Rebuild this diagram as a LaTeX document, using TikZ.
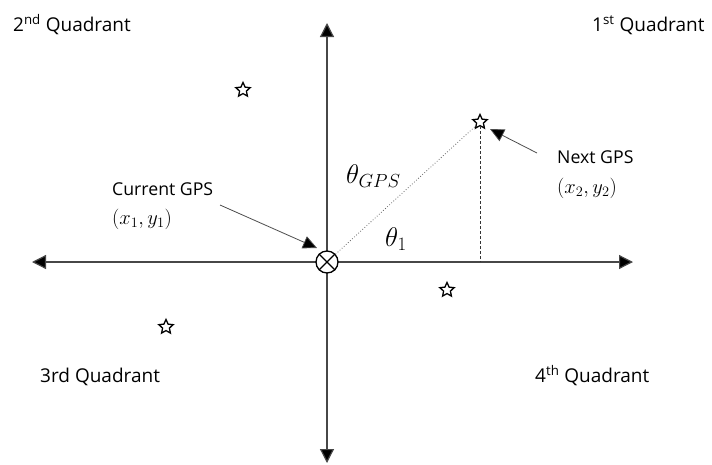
\RequirePackage{fix-cm}
\documentclass[tikz,border=0pt]{standalone}
\usepackage{fontspec}
\setmainfont{Open Sans}
\usetikzlibrary{arrows.meta,shapes.geometric}
\begin{document}
\begin{tikzpicture}[x=1pt,y=-1pt,
  axis/.style={draw=black!72, line width=1.2pt,
    {Triangle[length=14pt,width=14pt,fill=black]}-{Triangle[length=14pt,width=14pt,fill=black]}},
  ptr/.style={draw=black!70, line width=0.8pt, -{Triangle[length=14pt,width=13pt,fill=black]}},
  starmark/.style={star, star points=5, star point ratio=2.1, draw=black, line width=1.3pt,
    minimum size=15pt, inner sep=0pt},
  qlabel/.style={anchor=base west, inner sep=0pt, font=\fontsize{19}{22}\selectfont},
  glabel/.style={anchor=base west, inner sep=0pt, font=\fontsize{17.7}{21}\selectfont},
  mlabel/.style={anchor=base west, inner sep=0pt, font=\fontsize{20.5}{24}\selectfont},
  tlabel/.style={anchor=base west, inner sep=0pt, font=\fontsize{27}{30}\selectfont}]
\useasboundingbox (0,0) rectangle (712,464);

% axes
\coordinate (L) at (32,262);
\coordinate (R) at (633,262);
\coordinate (T) at (327,23);
\coordinate (B) at (327,463);
\draw[axis] (L) -- (R);
\draw[axis] (T) -- (B);

% origin marker
\node[circle, draw=black, line width=1.3pt, fill=white, minimum size=22pt, inner sep=0pt] (c) at (327,262) {};
\draw[line width=1.3pt] (c.north east) -- (c.south west);
\draw[line width=1.3pt] (c.north west) -- (c.south east);

% stars
\node[starmark] (s1) at (480,122) {};
\node[starmark] (s2) at (243,90) {};
\node[starmark] (s3) at (166,327) {};
\node[starmark] (s4) at (447,290) {};

% dotted and dashed lines
\draw[black!60, line width=0.8pt, dotted] (c) -- (s1);
\coordinate (foot) at (s1.south |- c);
\draw[black!80, line width=0.8pt, densely dashed] (s1.south) -- (foot);

% quadrant labels
\node[qlabel] (q2) at (13,31) {2\textsuperscript{nd} Quadrant};
\node[qlabel] (q1) at (592,31) {1\textsuperscript{st} Quadrant};
\node[qlabel] (q3) at (40,382) {3rd Quadrant};
\node[qlabel] (q4) at (535,382) {4\textsuperscript{th} Quadrant};

% GPS labels
\node[glabel] (cur) at (112,195) {Current GPS};
\node[mlabel] (curxy) at (112,224) {$(x_1,y_1)$};
\node[glabel] (nxt) at (557,163) {Next GPS};
\node[mlabel] (nxtxy) at (557,193) {$(x_2,y_2)$};

% pointer arrows
\coordinate (a1s) at (220,205);
\coordinate (a1e) at (317,248);
\draw[ptr] (a1s) -- (a1e);
\coordinate (a2s) at (537,153);
\coordinate (a2e) at (490,129);
\draw[ptr] (a2s) -- (a2e);

% angle labels
\node[tlabel] (tgps) at (346,183) {$\theta_{GPS}$};
\node[tlabel] (t1) at (385,246) {$\theta_1$};
\end{tikzpicture}
\end{document}
